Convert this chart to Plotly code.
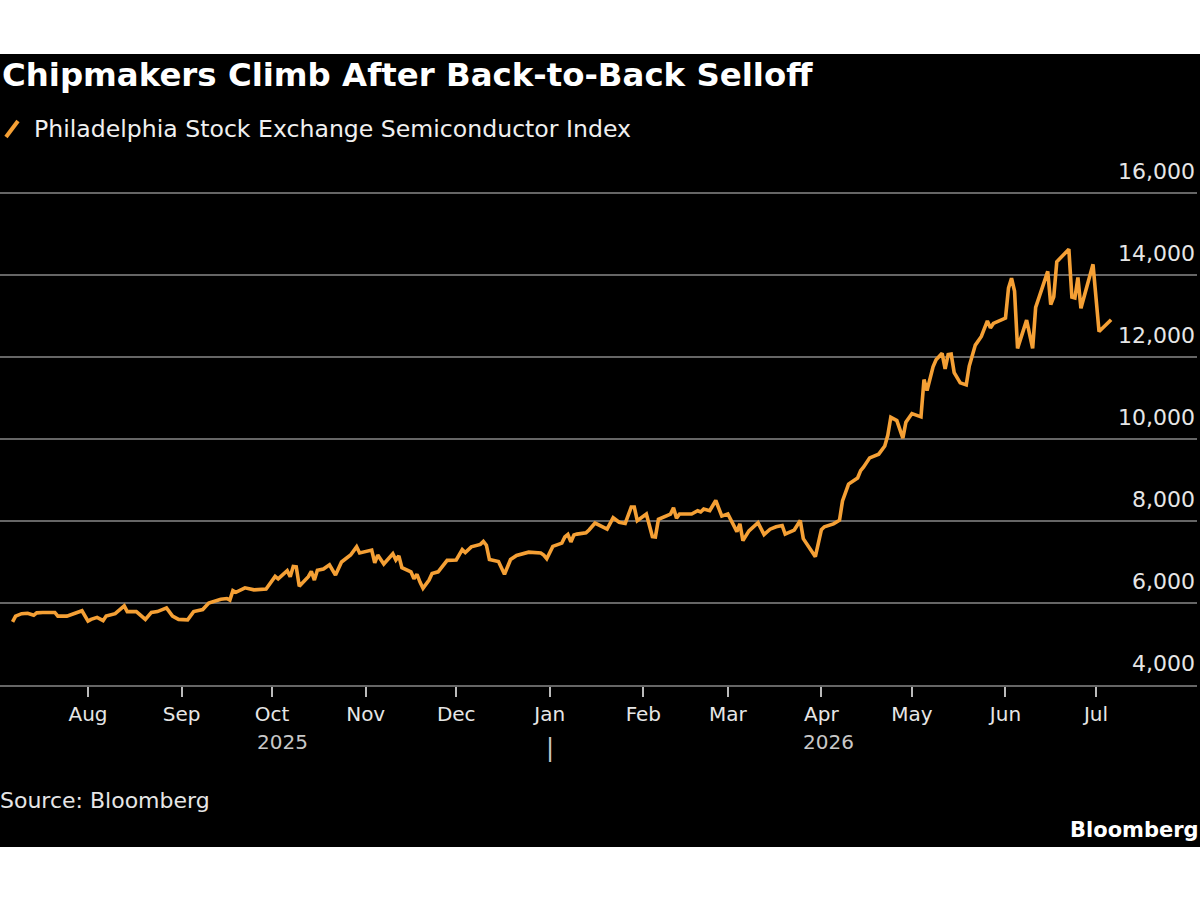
import plotly.graph_objects as go

# ---- Data ----
dates = [
    "2025-07-07", "2025-07-08", "2025-07-10", "2025-07-12", "2025-07-14", "2025-07-15", "2025-07-17",
    "2025-07-21", "2025-07-22", "2025-07-25", "2025-07-27", "2025-07-30", "2025-08-01", "2025-08-02",
    "2025-08-04", "2025-08-06", "2025-08-07", "2025-08-10", "2025-08-13", "2025-08-14", "2025-08-17",
    "2025-08-20", "2025-08-22", "2025-08-24", "2025-08-27", "2025-08-29", "2025-08-31", "2025-09-03",
    "2025-09-05", "2025-09-08", "2025-09-10", "2025-09-14", "2025-09-16", "2025-09-17", "2025-09-18",
    "2025-09-19", "2025-09-22", "2025-09-25", "2025-09-29", "2025-10-02", "2025-10-03", "2025-10-06",
    "2025-10-07", "2025-10-08", "2025-10-09", "2025-10-10", "2025-10-13", "2025-10-14", "2025-10-15",
    "2025-10-16", "2025-10-18", "2025-10-20", "2025-10-22", "2025-10-24", "2025-10-27", "2025-10-29",
    "2025-10-30", "2025-11-03", "2025-11-04", "2025-11-05", "2025-11-07", "2025-11-10", "2025-11-11",
    "2025-11-12", "2025-11-13", "2025-11-16", "2025-11-17", "2025-11-18", "2025-11-19", "2025-11-20",
    "2025-11-22", "2025-11-23", "2025-11-25", "2025-11-28", "2025-12-01", "2025-12-03", "2025-12-04",
    "2025-12-06", "2025-12-09", "2025-12-10", "2025-12-11", "2025-12-12", "2025-12-15", "2025-12-17",
    "2025-12-19", "2025-12-21", "2025-12-25", "2025-12-29", "2025-12-30", "2025-12-31", "2026-01-02",
    "2026-01-05", "2026-01-06", "2026-01-07", "2026-01-08", "2026-01-09", "2026-01-10", "2026-01-13",
    "2026-01-14", "2026-01-16", "2026-01-20", "2026-01-22", "2026-01-24", "2026-01-26", "2026-01-28",
    "2026-01-29", "2026-01-30", "2026-02-02", "2026-02-04", "2026-02-05", "2026-02-06", "2026-02-09",
    "2026-02-10", "2026-02-11", "2026-02-12", "2026-02-13", "2026-02-17", "2026-02-19", "2026-02-20",
    "2026-02-21", "2026-02-23", "2026-02-25", "2026-02-27", "2026-03-01", "2026-03-03", "2026-03-04",
    "2026-03-05", "2026-03-06", "2026-03-08", "2026-03-11", "2026-03-13", "2026-03-15", "2026-03-17",
    "2026-03-19", "2026-03-20", "2026-03-23", "2026-03-25", "2026-03-26", "2026-03-30", "2026-04-01",
    "2026-04-02", "2026-04-05", "2026-04-07", "2026-04-08", "2026-04-10", "2026-04-13", "2026-04-14",
    "2026-04-15", "2026-04-17", "2026-04-20", "2026-04-22", "2026-04-23", "2026-04-24", "2026-04-26",
    "2026-04-28", "2026-04-29", "2026-05-01", "2026-05-04", "2026-05-05", "2026-05-06", "2026-05-08",
    "2026-05-09", "2026-05-11", "2026-05-12", "2026-05-13", "2026-05-14", "2026-05-15", "2026-05-17",
    "2026-05-19", "2026-05-20", "2026-05-22", "2026-05-24", "2026-05-26", "2026-05-27", "2026-05-28",
    "2026-05-31", "2026-06-01", "2026-06-02", "2026-06-03", "2026-06-04", "2026-06-05", "2026-06-08",
    "2026-06-10", "2026-06-11", "2026-06-15", "2026-06-16", "2026-06-17", "2026-06-18", "2026-06-22",
    "2026-06-23", "2026-06-24", "2026-06-25", "2026-06-26", "2026-06-30", "2026-07-02", "2026-07-06",
]

sox_index = [
    5540, 5680, 5740, 5750, 5700, 5760, 5770,
    5770, 5680, 5680, 5730, 5810, 5560, 5600,
    5650, 5570, 5680, 5740, 5930, 5790, 5790,
    5600, 5770, 5790, 5880, 5680, 5600, 5590,
    5790, 5840, 6000, 6090, 6110, 6070, 6300,
    6260, 6370, 6320, 6340, 6650, 6590, 6790,
    6640, 6890, 6880, 6410, 6640, 6770, 6560,
    6800, 6830, 6930, 6680, 7000, 7170, 7370,
    7220, 7290, 6980, 7170, 6950, 7200, 7050,
    7150, 6860, 6760, 6590, 6700, 6510, 6360,
    6560, 6720, 6760, 7040, 7050, 7300, 7230,
    7370, 7430, 7500, 7410, 7060, 7010, 6700,
    7060, 7160, 7240, 7220, 7170, 7080, 7380,
    7460, 7610, 7670, 7490, 7660, 7680, 7710,
    7780, 7950, 7800, 8080, 7970, 7940, 8340,
    8340, 8010, 8170, 7620, 7610, 8040, 8150,
    8170, 8320, 8070, 8170, 8170, 8250, 8220,
    8290, 8250, 8500, 8120, 8170, 7870, 7740,
    7930, 7520, 7760, 7960, 7670, 7800, 7860,
    7890, 7680, 7780, 8010, 7570, 7130, 7790,
    7860, 7930, 8020, 8490, 8900, 9050, 9230,
    9320, 9540, 9630, 9830, 10090, 10530, 10450,
    10020, 10410, 10620, 10540, 11450, 11180, 11760,
    11930, 12090, 11710, 12060, 12070, 11620, 11370,
    11320, 11780, 12290, 12500, 12880, 12710, 12820,
    12900, 12950, 13680, 13920, 13610, 12210, 12900,
    12210, 13210, 14090, 13280, 13470, 14320, 14630,
    13460, 13440, 13940, 13190, 14260, 12620, 12910,
]

month_ticks = ["2025-08-01", "2025-09-01", "2025-10-01", "2025-11-01", "2025-12-01", "2026-01-01",
               "2026-02-01", "2026-03-01", "2026-04-01", "2026-05-01", "2026-06-01", "2026-07-01"]
month_labels = ["Aug", "Sep", "Oct", "Nov", "Dec", "Jan", "Feb", "Mar", "Apr", "May", "Jun", "Jul"]

y_ticks = [4000, 6000, 8000, 10000, 12000, 14000, 16000]

year_label_dates = ["2025-10-04 14:00", "2026-04-03 12:00"]
year_labels = ["2025", "2026"]
year_break_date = "2026-01-01"

title_text = "Chipmakers Climb After Back-to-Back Selloff"
series_name = "Philadelphia Stock Exchange Semiconductor Index"
source_text = "Source: Bloomberg"
brand_text = "Bloomberg"

# ---- Styling ----
ORANGE = "#F5A035"
GRID = "#666666"
FONT = "DejaVu Sans"

fig = go.Figure()
fig.add_trace(go.Scatter(
    x=dates, y=sox_index, mode="lines", name=series_name,
    line=dict(color=ORANGE, width=3.6), showlegend=False,
))

fig.update_layout(
    width=1200, height=900,
    margin=dict(l=0, r=3, t=183, b=215, pad=0),
    paper_bgcolor="white", plot_bgcolor="black",
    font=dict(family=FONT, color="#e6e6e6"),
    showlegend=False,
    xaxis=dict(
        type="date",
        range=["2025-07-02 20:00", "2026-08-03 11:00"],
        tickvals=month_ticks, ticktext=month_labels,
        ticks="outside", ticklen=10, tickwidth=1.5, tickcolor="#bbbbbb",
        tickfont=dict(size=20, color="#e6e6e6", family=FONT),
        showgrid=False, zeroline=False,
        showline=True, linecolor=GRID, linewidth=1.5,
    ),
    yaxis=dict(
        range=[4000, 16244],
        side="right",
        tickvals=y_ticks, tickformat=",",
        ticklabelposition="inside top", ticklabeloverflow="allow",
        ticklabelshift=-6, ticklabelstandoff=-1,
        ticks="",
        tickfont=dict(size=22, color="#e6e6e6", family=FONT),
        showgrid=True, gridcolor=GRID, gridwidth=1.5,
        zeroline=False, showline=False,
    ),
)

# black panel behind the chart
fig.add_shape(type="rect", xref="paper", yref="paper",
              x0=-0.01, x1=1.01, y0=-0.3227, y1=1.257,
              fillcolor="black", line=dict(width=0), layer="below")

# legend slash icon
fig.add_shape(type="line", xref="paper", yref="paper",
              x0=0.005, y0=1.0916, x1=0.015, y1=1.1235,
              line=dict(color=ORANGE, width=4))

annotations = [
    dict(text="<b>" + title_text + "</b>", x=0.0, y=1.2151, xanchor="left", yanchor="middle",
         font=dict(size=32.4, color="white", family=FONT)),
    dict(text=series_name, x=0.0265, y=1.1076, xanchor="left", yanchor="middle",
         font=dict(size=23.6, color="#f0f0f0", family=FONT)),
    dict(text=source_text, x=-0.002, y=-0.2291, xanchor="left", yanchor="middle",
         font=dict(size=22, color="#e6e6e6", family=FONT)),
    dict(text="<b>" + brand_text + "</b>", x=1.003, y=-0.2888, xanchor="right", yanchor="middle",
         font=dict(size=21, color="white", family=FONT)),
]
for a in annotations:
    a.update(xref="paper", yref="paper", showarrow=False)
    fig.add_annotation(**a)

for d, lab in zip(year_label_dates, year_labels):
    fig.add_annotation(x=d, y=-0.1135, xref="x", yref="paper", text=lab, showarrow=False,
                       xanchor="center", yanchor="middle",
                       font=dict(size=20, color="#c8c8c8", family=FONT))
fig.add_annotation(x=year_break_date, y=-0.1255, xref="x", yref="paper", text="|", showarrow=False,
                   xanchor="center", yanchor="middle",
                   font=dict(size=24, color="#c8c8c8", family=FONT))

fig.write_html("out.html")
